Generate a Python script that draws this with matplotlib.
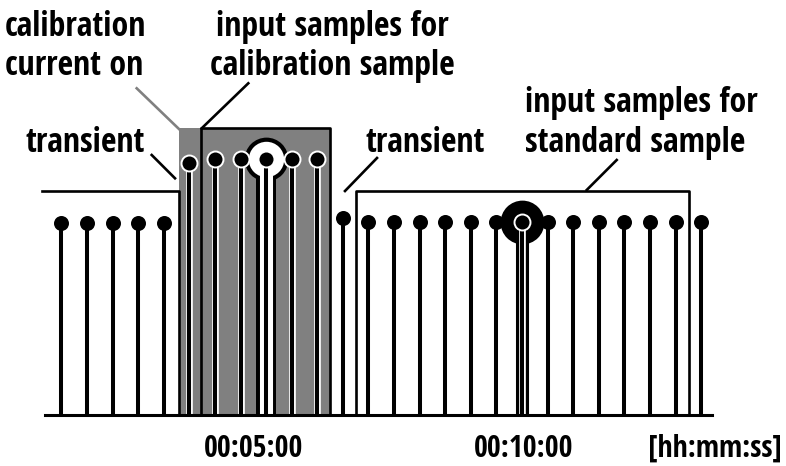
import matplotlib.pyplot as plt
from matplotlib.patches import Rectangle

# sample times [s] and signal heights (baseline = 0)
t_before = [60, 90, 120, 150, 180]
y_before = [192, 192, 192, 192, 192]
t_calib = [210, 240, 270, 300, 330, 360]
y_calib = [252, 256, 256, 256, 256, 256]
t_after = [390, 420, 450, 480, 510, 540, 570, 600, 630, 660, 690, 720, 750, 780, 810]
y_after = [197, 193, 193, 193, 193, 193, 193, 193, 193, 193, 193, 193, 193, 193, 193]

calib_pick = 300   # sample taken for calibration
std_pick = 600     # sample taken for standard

# annotation geometry (time in s, level in signal units)
t_current_on = 197.5
calib_window = (224, 375)
std_window = (405, 796)
level_before = 224
calib_top = 287
std_top = 224
axis_span = (41, 823)

tick_pos = [285, 602]
tick_labels = ["00:05:00", "00:10:00"]

W, H = 786, 466
PX_PER_S = 25.59 / 30
GRAY = "#808080"
FONT = ["Open Sans Condensed", "DejaVu Sans"]

fig = plt.figure(figsize=(W / 100, H / 100), dpi=100)
ax = fig.add_axes([0, 0, 1, 1])
ax.set_xlim(600 - 522 / PX_PER_S, 600 + 264 / PX_PER_S)
ax.set_ylim(-51, 415)
ax.axis("off")


def px(x, y):
    # pixel position -> figure fraction (for labels and leader lines)
    return x / W, 1 - y / H


def stem(t, v, outline=False, z=5):
    if outline:
        ax.plot([t, t], [0, v], color="white", lw=4.8, solid_capstyle="butt", zorder=z)
        ax.plot([t, t], [0, v], color="black", lw=2.9, solid_capstyle="butt", zorder=z + 0.1)
        ax.plot(t, v, "o", ms=11.5, mfc="black", mec="white", mew=1.4, zorder=z + 0.2)
    else:
        ax.plot([t, t], [0, v], color="black", lw=2.9, solid_capstyle="butt", zorder=z)
        ax.plot(t, v, "o", ms=10.8, mfc="black", mew=0, zorder=z + 0.2)


# calibration current window
ax.add_patch(Rectangle((t_current_on, 0), calib_window[1] - t_current_on, calib_top,
                       facecolor=GRAY, edgecolor="none", zorder=1))

# highlighted samples
cv = y_calib[t_calib.index(calib_pick)]
ax.plot([calib_pick, calib_pick], [0, cv], color="black", lw=14.4, solid_capstyle="butt", zorder=2)
ax.plot(calib_pick, cv, "o", ms=31.5, mfc="black", mew=0, zorder=2)
ax.plot([calib_pick, calib_pick], [0, cv], color="white", lw=9.4, solid_capstyle="butt", zorder=2.5)
ax.plot(calib_pick, cv, "o", ms=25.5, mfc="white", mew=0, zorder=2.5)

sv = y_after[t_after.index(std_pick)]
ax.plot([std_pick, std_pick], [0, sv], color="black", lw=9.4, solid_capstyle="butt", zorder=2)
ax.plot(std_pick, sv, "o", ms=31.5, mfc="black", mew=0, zorder=2)

for t, v in zip(t_before, y_before):
    stem(t, v)
for t, v in zip(t_calib, y_calib):
    stem(t, v, outline=True)
for t, v in zip(t_after, y_after):
    stem(t, v, outline=(t == std_pick))

# windows
lw_box = 1.9
ax.plot([calib_window[0], calib_window[0], calib_window[1], calib_window[1]],
        [0, calib_top, calib_top, 0], color="black", lw=lw_box, zorder=8)
ax.plot([std_window[0], std_window[0], std_window[1], std_window[1]],
        [0, std_top, std_top, 0], color="black", lw=lw_box, zorder=8)
ax.plot([37, t_current_on, t_current_on], [level_before, level_before, 0],
        color="black", lw=lw_box, zorder=8)
ax.plot(axis_span, [0, 0], color="black", lw=2.2, zorder=9)

# leader lines
leaders = [
    ((151.7, 155), (175, 178.3), "black"),
    ((377, 158), (345, 191), "black"),
    ((136.7, 88.3), (180, 130), GRAY),
    ((248.3, 83.3), (201.7, 128.3), "black"),
    ((616.7, 160), (586.7, 190), "black"),
]
for a, b, c in leaders:
    (x0, y0), (x1, y1) = px(*a), px(*b)
    fig.add_artist(plt.Line2D([x0, x1], [y0, y1], color=c, lw=1.9, transform=fig.transFigure))

# labels
txt = dict(family=FONT, weight="bold", stretch="condensed", fontsize=24.3, va="baseline")
fig.text(*px(5, 36), "calibration", ha="left", **txt)
fig.text(*px(5, 75), "current on", ha="left", **txt)
fig.text(*px(332, 36), "input samples for", ha="center", **txt)
fig.text(*px(332, 75), "calibration sample", ha="center", **txt)
fig.text(*px(85, 152), "transient", ha="center", **txt)
fig.text(*px(425.5, 152), "transient", ha="center", **txt)
fig.text(*px(525, 112), "input samples for", ha="left", **txt)
fig.text(*px(525, 152), "standard sample", ha="left", **txt)

lab = dict(family=FONT, weight="bold", stretch="condensed", fontsize=21.5, va="baseline")
for t, s in zip(tick_pos, tick_labels):
    ax.text(t, 415 - 457, s, ha="center", **lab)
fig.text(*px(782, 457), "[hh:mm:ss]", ha="right", **lab)

fig.savefig("out.png", dpi=100)
